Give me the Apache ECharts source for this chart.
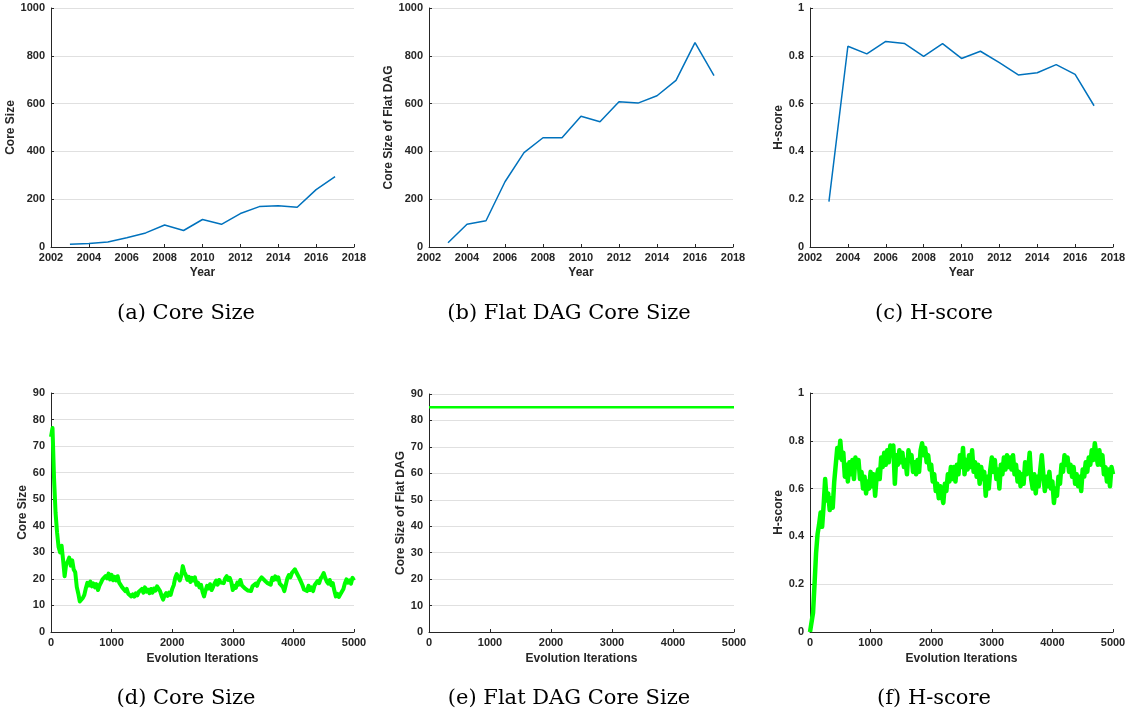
<!DOCTYPE html>
<html>
<head>
<meta charset="utf-8">
<script src="https://cdn.jsdelivr.net/npm/echarts@6/dist/echarts.min.js"></script>
<style>
html,body{margin:0;padding:0;background:#fff;}
#chart{width:1129px;height:717px;}
</style>
</head>
<body>
<div id="chart"></div>
<script>
// ---------- data ----------
const YEARS = [2003,2004,2005,2006,2007,2008,2009,2010,2011,2012,2013,2014,2015,2016,2017];
const CORE_SIZE = [12,15,21,39,59,92,69,115,95,140,169,173,166,240,294];
const FLAT_DAG_CORE = [18,95,110,273,395,457,457,547,524,608,602,633,697,855,717];
const H_SCORE = [0.19,0.84,0.808,0.86,0.851,0.798,0.851,0.789,0.819,0.771,0.72,0.729,0.763,0.722,0.591];

const ITER_STEP = 25; // iterations between consecutive samples below
const CORE_EVO = [
  73.5,76.8,58,45,37.5,32,30,32.5,27,21,
  25.5,26.5,28,25,27,23.5,22.5,17,14.5,11.5,
  11.2,12.8,14,16.5,18.5,17.5,19,17.2,18.3,16.8,
  18,15.8,17.5,18.6,19.8,19.2,21,20.2,22,19.8,
  21.5,19.5,20.8,19.4,21,18.6,19.2,16.8,17,15.4,
  16.2,14.4,15,13.4,14.2,13.3,14.6,13.8,15.2,14.6,
  16.2,14.8,16.8,15.2,16,14.6,16.2,14.8,16.4,15.6,
  17.2,16.6,15.4,13.6,12.2,13.8,14.6,13.6,14.8,14,
  16.2,17.6,20.4,21.8,20.6,19.4,21.2,24.8,22.6,21.4,
  19.6,20.8,18.8,20.4,19.4,20.6,17.8,18.6,16.8,17.8,
  15.2,13.4,15.6,17.4,16.4,18,15.8,17,18.4,19.4,
  17.8,19.6,18.6,19.2,18.4,20.2,21,19.6,20.4,18.8,
  15.8,17.4,16.6,18.6,17.8,19.6,17.6,18.2,16.4,17,
  15.6,16.2,15.4,17.2,16.6,18.2,17.4,19,19.8,20.6,
  20.2,19.4,20,18.4,19,17.8,20.4,19.6,21,19.8,
  20.6,18.2,18.8,17,15.4,17.8,20.2,21.4,20.6,22.2,
  21.6,23.6,22.4,21.8,20.2,19.6,17.6,16,16.6,15.4,
  17.4,15.8,16.8,15.4,17.6,17,19.2,18.4,20.2,21,
  22.2,20.4,19,18.2,19.6,17.6,18.4,15.6,13.4,14.4,
  13.2,14.2,14.8,16.2,18.4,19.8,18.6,19.4,18.2,20.4,
  19.4
];
const FLAT_EVO_ITER = [0, 5000];
const FLAT_EVO = [85, 85];
const H_EVO = [
  0,0,0.08,0.2,0.33,0.41,0.45,0.5,0.44,0.53,
  0.64,0.55,0.58,0.51,0.56,0.52,0.63,0.7,0.77,0.73,
  0.8,0.72,0.75,0.65,0.7,0.63,0.71,0.66,0.72,0.64,
  0.73,0.69,0.72,0.64,0.67,0.6,0.65,0.58,0.63,0.6,
  0.67,0.61,0.66,0.57,0.65,0.68,0.64,0.73,0.69,0.75,
  0.7,0.76,0.71,0.78,0.74,0.78,0.62,0.74,0.7,0.76,
  0.71,0.75,0.69,0.72,0.66,0.76,0.72,0.74,0.67,0.71,
  0.66,0.72,0.67,0.76,0.79,0.74,0.77,0.71,0.74,0.68,
  0.7,0.63,0.66,0.59,0.62,0.56,0.61,0.57,0.54,0.62,
  0.59,0.66,0.63,0.69,0.64,0.69,0.63,0.7,0.66,0.74,
  0.69,0.77,0.66,0.72,0.68,0.74,0.69,0.76,0.67,0.71,
  0.65,0.7,0.62,0.69,0.64,0.67,0.57,0.65,0.6,0.68,
  0.73,0.67,0.72,0.64,0.68,0.6,0.7,0.66,0.73,0.68,
  0.74,0.69,0.73,0.68,0.74,0.66,0.7,0.63,0.67,0.61,
  0.66,0.62,0.71,0.66,0.68,0.75,0.64,0.6,0.66,0.58,
  0.65,0.61,0.68,0.74,0.66,0.59,0.65,0.61,0.67,0.6,
  0.63,0.54,0.6,0.57,0.65,0.62,0.7,0.67,0.74,0.7,
  0.73,0.67,0.7,0.65,0.69,0.62,0.66,0.61,0.65,0.59,
  0.68,0.65,0.71,0.67,0.73,0.7,0.76,0.72,0.79,0.74,
  0.7,0.76,0.7,0.74,0.66,0.69,0.63,0.68,0.61,0.69,
  0.66
];

const CAPTIONS = ['(a) Core Size','(b) Flat DAG Core Size','(c) H-score',
                  '(d) Core Size','(e) Flat DAG Core Size','(f) H-score'];
const Y_NAMES = ['Core Size','Core Size of Flat DAG','H-score',
                 'Core Size','Core Size of Flat DAG','H-score'];

// ---------- layout / style ----------
const TXT = '#262626';
const SANS = 'Liberation Sans, Arial, Helvetica, sans-serif';
const grids = [
  {left:51, top:8, width:303, height:239},
  {left:429, top:8, width:304, height:239},
  {left:810, top:8, width:303, height:239},
  {left:51, top:393, width:303, height:239},
  {left:429, top:394, width:305, height:238},
  {left:810, top:393, width:303, height:239}
];
const yGaps = [26,26,19,17,15,21];
const yRanges = [[0,1000,200],[0,1000,200],[0,1,0.2],[0,90,10],[0,90,10],[0,1,0.2]];
const capPos = [[186,314],[569,314],[934,314],[186,699],[569,699],[934,699]];

const plain = v => String(Math.round(v*1000)/1000);

function xAxisFor(i){
  const top = i < 3;
  return {
    gridIndex:i, type:'value',
    min: top?2002:0, max: top?2018:5000, interval: top?2:1000,
    name: top?'Year':'Evolution Iterations', nameLocation:'middle', nameGap: top?20:21,
    nameTextStyle:{color:TXT, fontFamily:SANS, fontWeight:'bold', fontSize:12},
    axisLine:{onZero:false, lineStyle:{color:TXT, width:1}},
    axisTick:{inside:true, length:3, lineStyle:{color:TXT}},
    axisLabel:{color:TXT, fontFamily:SANS, fontWeight:'bold', fontSize:11, margin:5, formatter:plain},
    splitLine:{show:false}
  };
}
function yAxisFor(i){
  const r = yRanges[i];
  return {
    gridIndex:i, type:'value', min:r[0], max:r[1], interval:r[2],
    name:Y_NAMES[i], nameLocation:'middle', nameGap:yGaps[i], nameRotate:90,
    nameTextStyle:{color:TXT, fontFamily:SANS, fontWeight:'bold', fontSize:12},
    axisLine:{show:true, onZero:false, lineStyle:{color:TXT, width:1}},
    axisTick:{show:true, inside:true, length:3, lineStyle:{color:TXT}},
    axisLabel:{color:TXT, fontFamily:SANS, fontWeight:'bold', fontSize:11, margin:6, formatter:plain},
    splitLine:{show:true, lineStyle:{color:'#e0e0e0', width:1}}
  };
}

const BLUE = '#0072BD', GREEN = '#00FF00';
const series = [
  {type:'line', xAxisIndex:0, yAxisIndex:0, data:YEARS.map((y,k)=>[y,CORE_SIZE[k]]),
   showSymbol:false, lineStyle:{color:BLUE, width:1.5}},
  {type:'line', xAxisIndex:1, yAxisIndex:1, data:YEARS.map((y,k)=>[y,FLAT_DAG_CORE[k]]),
   showSymbol:false, lineStyle:{color:BLUE, width:1.5}},
  {type:'line', xAxisIndex:2, yAxisIndex:2, data:YEARS.map((y,k)=>[y,H_SCORE[k]]),
   showSymbol:false, lineStyle:{color:BLUE, width:1.5}},
  {type:'line', xAxisIndex:3, yAxisIndex:3, data:CORE_EVO.map((v,k)=>[k*ITER_STEP,v]),
   showSymbol:false, lineStyle:{color:GREEN, width:4, join:'round'}},
  {type:'line', xAxisIndex:4, yAxisIndex:4, data:FLAT_EVO_ITER.map((x,k)=>[x,FLAT_EVO[k]]),
   showSymbol:false, lineStyle:{color:GREEN, width:2.5}},
  {type:'line', xAxisIndex:5, yAxisIndex:5, data:H_EVO.map((v,k)=>[k*ITER_STEP,v]),
   showSymbol:false, lineStyle:{color:GREEN, width:4.5, join:'round'}}
];

const graphic = CAPTIONS.map((t,i)=>({
  type:'text', x:capPos[i][0], y:capPos[i][1],
  style:{text:t, fill:'#000', font:'21px "DejaVu Serif", "Liberation Serif", serif',
         textAlign:'center', textVerticalAlign:'middle'}
}));

const chart = echarts.init(document.getElementById('chart'), null, {renderer:'canvas'});
chart.setOption({
  animation:false,
  backgroundColor:'#fff',
  grid: grids,
  xAxis: grids.map((g,i)=>xAxisFor(i)),
  yAxis: grids.map((g,i)=>yAxisFor(i)),
  series: series,
  graphic: graphic
});
</script>
</body>
</html>
